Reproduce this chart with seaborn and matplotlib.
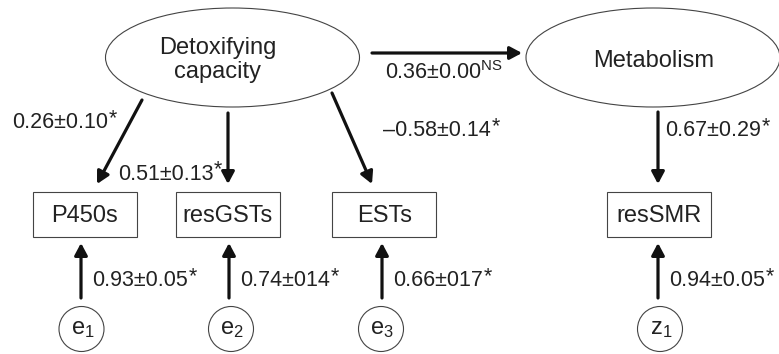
import matplotlib
matplotlib.use("Agg")
import matplotlib.pyplot as plt
from matplotlib.patches import Ellipse, Rectangle, Circle, FancyArrowPatch
import seaborn as sns

# ---------------- data ----------------
latent_names = ["Detoxifying\ncapacity", "Metabolism"]
observed_names = ["P450s", "resGSTs", "ESTs", "resSMR"]
error_names = ["e", "e", "e", "z"]
error_subs = ["1", "2", "3", "1"]
loading_labels = ["0.26\u00b10.10", "0.51\u00b10.13", "\u20130.58\u00b10.14", "0.67\u00b10.29"]
loading_sig = ["*", "*", "*", "*"]
error_labels = ["0.93\u00b10.05", "0.74\u00b1014", "0.66\u00b1017", "0.94\u00b10.05"]
error_sig = ["*", "*", "*", "*"]
structural_label = "0.36\u00b10.00"
structural_sig = "NS"

# ---------------- style ----------------
sns.set_theme(style="white")
plt.rcParams["font.family"] = ["Liberation Sans", "DejaVu Sans"]
plt.rcParams["mathtext.fontset"] = "custom"
plt.rcParams["mathtext.rm"] = "Liberation Sans"
plt.rcParams["mathtext.it"] = "Liberation Sans"
plt.rcParams["mathtext.default"] = "regular"

FS_NODE = 17
FS_LAB = 15.5
TXT = "#222222"
EDGE = "#444444"

fig = plt.figure(figsize=(7.79, 3.54), dpi=100)
ax = fig.add_axes([0, 0, 1, 1])
ax.set_xlim(0, 779)
ax.set_ylim(354, 0)
ax.axis("off")
renderer = fig.canvas.get_renderer()

# layout (pixel coordinates)
lat_xy = [(232.5, 57.5), (653, 57.5)]
lat_wh = (254, 99)
lat_text_xy = [(218, 60), (654, 61)]
box_cx = [85, 228, 384.5, 659]
box_y0, box_h, box_w = 192, 45, 104
err_cx = [81.5, 231, 381, 660]
err_cy, err_r = 329, 22.5

for (cx, cy), (tx, ty), name in zip(lat_xy, lat_text_xy, latent_names):
    ax.add_patch(Ellipse((cx, cy), lat_wh[0], lat_wh[1], fill=False, ec=EDGE, lw=0.8))
    ax.text(tx, ty, name, ha="center", va="center", fontsize=FS_NODE, color=TXT, linespacing=1.15)

for cx, name in zip(box_cx, observed_names):
    ax.add_patch(Rectangle((cx - box_w / 2, box_y0), box_w, box_h, fill=False, ec=EDGE, lw=0.8))
    ax.text(cx, box_y0 + box_h / 2 + 1, name, ha="center", va="center", fontsize=FS_NODE, color=TXT)

for cx, n, s in zip(err_cx, error_names, error_subs):
    ax.add_patch(Circle((cx, err_cy), err_r, fill=False, ec=EDGE, lw=0.8))
    ax.text(cx + 1, err_cy, f"${n}_{{{s}}}$", ha="center", va="center", fontsize=FS_NODE, color=TXT)


def arrow(p0, p1):
    ax.add_patch(FancyArrowPatch(p0, p1, arrowstyle="-|>,head_length=0.6,head_width=0.32",
                                 mutation_scale=12, lw=2.3, color="#111111",
                                 shrinkA=0, shrinkB=0))


def label(x, y, txt, sig):
    t = ax.text(x, y, txt, ha="left", va="center", fontsize=FS_LAB, color=TXT)
    bb = t.get_window_extent(renderer)
    x_end = ax.transData.inverted().transform((bb.x1, bb.y1))[0]
    ax.text(x_end + 0.5, y - 4, sig, ha="left", va="center", fontsize=FS_LAB, color=TXT)


# loadings arrows
load_arrows = [((142, 100), (97, 184)), ((228, 113), (228, 184)),
               ((332, 93), (372, 184)), ((658, 112), (658, 184))]
load_text_xy = [(12, 123), (118, 174), (383, 131), (665, 131)]
for (p0, p1), (tx, ty), lab, sig in zip(load_arrows, load_text_xy, loading_labels, loading_sig):
    arrow(p0, p1)
    label(tx, ty, lab, sig)

# error arrows
err_arrow_x = [81, 229, 382, 658]
for x, cx, lab, sig in zip(err_arrow_x, err_cx, error_labels, error_sig):
    arrow((x, 298), (x, 243))
    label(x + 11, 281, lab, sig)

# structural path
arrow((372, 53), (522, 53))
ax.text(385, 73, f"{structural_label}$^{{{structural_sig}}}$", ha="left", va="center",
        fontsize=FS_LAB, color=TXT)

fig.savefig("out.png", dpi=100)
